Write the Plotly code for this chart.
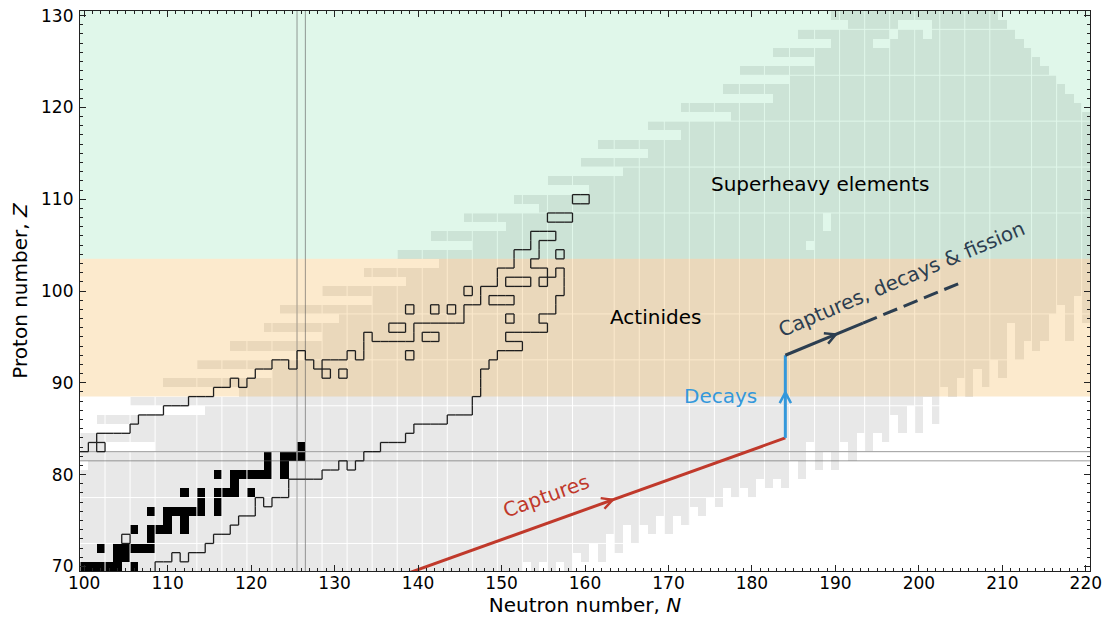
import math
import plotly.graph_objects as go

W, H = 1108, 621
ML, MR, MT, MB = 80, 18, 11, 50
X_RANGE = [99.5, 220.5]
Y_RANGE = [69.5, 130.5]

GREY = "#e8e8e8"
RED = "#c0392b"
BLUE = "#3498db"
NAVY = "#2c3e50"
GREEN_BAND = "rgba(46, 204, 113, 0.15)"
ORANGE_BAND = "rgba(243, 156, 18, 0.21)"

# ---- calculated nuclei (grey cells) ----------------------------------------
Z_ROWS = list(range(70, 131))
GREY_LO = [99] * 15 + [
    106, 102, 115, 106, 119, 110, 123, 114, 127, 118,  # Z 85-94
    129, 122, 131, 124, 135, 129, 139, 134, 143, 138,  # Z 95-104
    147, 142, 151, 146, 155, 152, 161, 156, 165, 160,  # Z 105-114
    168, 162, 172, 168, 178, 172, 183, 177, 185, 179,  # Z 115-124
    188, 183, 190, 186, 192, 190,                      # Z 125-130
]
GREY_HI = [221] * 49 + [220, 219, 218, 217, 216, 215, 214, 213, 212, 211, 210, 209]

# lowest calculated Z for each neutron number (neutron-rich edge)
ZMIN_N = list(range(140, 222))
ZMIN = [60] * 10 + [
    69, 69, 69, 71, 69, 71, 70, 71, 70, 72,   # N 150-159
    71, 73, 71, 74, 72, 75, 73, 75, 74, 76,   # N 160-169
    74, 76, 75, 77, 76, 78, 77, 79, 78, 79,   # N 170-179
    78, 80, 79, 80, 79, 82, 80, 84, 81, 83,   # N 180-189
    81, 84, 82, 85, 83, 85, 84, 87, 85, 88,   # N 190-199
    85, 89, 86, 90, 89, 91, 89, 92, 90, 93,   # N 200-209
    91, 97, 93, 95, 94, 95, 98, 99, 95, 100,  # N 210-219
    97, 100,                                  # N 220-221
]

GREY_HOLES_N = [100, 103, 104, 105, 106, 107, 108, 187, 189, 189, 195, 196, 197, 198, 199, 200, 201, 201]
GREY_HOLES_Z = [81, 83, 83, 83, 83, 83, 83, 105, 107, 108, 127, 127, 128, 129, 129, 129, 129, 128]

# ---- stable nuclei (black cells) -------------------------------------------
STABLE_Z = [70] * 6 + [71] * 2 + [72] * 6 + [73] + [74] * 5 + [75] * 2 + [76] * 7 + [77] * 2 \
    + [78] * 6 + [79] + [80] * 7 + [81] * 2 + [82] * 4 + [83]
STABLE_N = [100, 101, 102, 103, 104, 106,
            104, 105,
            102, 104, 105, 106, 107, 108,
            108,
            106, 108, 109, 110, 112,
            110, 112,
            108, 110, 111, 112, 113, 114, 116,
            114, 116,
            112, 114, 116, 117, 118, 120,
            118,
            116, 118, 119, 120, 121, 122, 124,
            122, 124,
            122, 124, 125, 126,
            126]

# ---- experimentally known nuclei (outlined), as row segments ---------------
KNOWN_Z = [70, 71, 71, 72, 73, 73, 74, 75, 76, 77, 77, 78, 79, 80, 81, 81, 82,
           83, 83, 84, 85, 86, 87, 88, 89, 90, 90, 91, 91, 91, 92, 92, 92,
           93, 93, 93, 93, 94, 95, 95, 95, 96, 96, 97, 97,
           98, 98, 98, 98, 99, 99, 100, 100, 101, 101, 101, 102, 102,
           103, 104, 104, 105, 106, 108, 110]
KNOWN_FROM = [90, 90, 112, 90, 90, 106, 90, 90, 90, 90, 122, 90, 90, 90, 90, 132, 90,
              101, 103, 102, 106, 107, 110, 113, 116, 118, 120, 121, 130, 132, 123, 126, 129,
              126, 132, 134, 140, 134, 134, 140, 143, 137, 140, 146, 152,
              139, 142, 144, 146, 148, 152, 146, 148, 150, 154, 156, 150, 157,
              152, 152, 157, 154, 154, 156, 159]
KNOWN_TO = [108, 110, 112, 114, 104, 115, 117, 118, 120, 120, 122, 124, 124, 128, 130, 132, 133,
            101, 135, 138, 139, 143, 146, 146, 147, 118, 147, 128, 130, 147, 124, 127, 148,
            126, 132, 138, 149, 152, 134, 140, 150, 138, 155, 150, 154,
            139, 142, 144, 156, 148, 156, 146, 157, 150, 154, 157, 155, 157,
            153, 154, 157, 154, 156, 158, 160]

MAGIC_N = [126]
MAGIC_Z = [82]

# region bands (Z limits)
ACTINIDE_BAND = [88.5, 103.5]
SHE_BAND = [103.5, 131.0]

# reaction path
CAPTURE_N = [138, 184]
CAPTURE_Z = [69, 84]
DECAY_N = [184, 184]
DECAY_Z = [84, 93]
FISSION_N = [184, 193.3, 205]
FISSION_Z = [93, 96.5, 100.9]

# separator lines visible in the rendered cell grid
SEP_N = [113.5 + 50 * j + 3 * k for j in (-1, 0, 1, 2) for k in range(16)]
SEP_Z = [72.5, 77.5, 82.5, 87.5, 92.5, 97.5, 108.5, 113.5, 118.5, 123.5, 128.5]

# ----------------------------------------------------------------------------
N_COLS = list(range(99, 222))
zmin_of = dict(zip(ZMIN_N, ZMIN))
holes = set(zip(GREY_HOLES_N, GREY_HOLES_Z))

grey_z = []
for zi, z in enumerate(Z_ROWS):
    row = []
    for n in N_COLS:
        ok = GREY_LO[zi] <= n <= GREY_HI[zi] and z >= zmin_of.get(n, 0) and (n, z) not in holes
        row.append(1 if ok else None)
    grey_z.append(row)

stable = set(zip(STABLE_N, STABLE_Z))
black_z = [[1 if (n, z) in stable else None for n in N_COLS] for z in Z_ROWS]

known = set()
for z, a, b in zip(KNOWN_Z, KNOWN_FROM, KNOWN_TO):
    for n in range(a, b + 1):
        known.add((n, z))

ox, oy = [], []
for (n, z) in sorted(known):
    for dn, dz in ((1, 0), (-1, 0), (0, 1), (0, -1)):
        nb = (n + dn, z + dz)
        if nb in known or nb[1] < 70:
            continue
        if dn:
            x = n + 0.5 * dn
            ox += [x, x, None]
            oy += [z - 0.5, z + 0.5, None]
        else:
            y = z + 0.5 * dz
            ox += [n - 0.5, n + 0.5, None]
            oy += [y, y, None]

sx = (W - ML - MR) / (X_RANGE[1] - X_RANGE[0])
sy = (H - MT - MB) / (Y_RANGE[1] - Y_RANGE[0])


def chevron(n0, z0, n1, z1, frac, size=12, half=28):
    tn = n0 + (n1 - n0) * frac
    tz = z0 + (z1 - z0) * frac
    dx, dy = (n1 - n0) * sx, (z1 - z0) * sy
    L = math.hypot(dx, dy)
    ux, uy = dx / L, dy / L
    xs, ys = [], []
    for s in (1, -1):
        a = math.radians(half) * s
        bx = -(ux * math.cos(a) - uy * math.sin(a))
        by = -(ux * math.sin(a) + uy * math.cos(a))
        xs.append(tn + bx * size / sx)
        ys.append(tz + by * size / sy)
    return [xs[0], tn, xs[1]], [ys[0], tz, ys[1]]


fig = go.Figure()

fig.add_trace(go.Heatmap(x=N_COLS, y=Z_ROWS, z=grey_z, colorscale=[[0, GREY], [1, GREY]],
                         showscale=False, hoverinfo="skip"))

sx_l, sy_l = [], []
for v in SEP_N:
    sx_l += [v, v, None]
    sy_l += [Y_RANGE[0], Y_RANGE[1], None]
for v in SEP_Z:
    sx_l += [X_RANGE[0], X_RANGE[1], None]
    sy_l += [v, v, None]
fig.add_trace(go.Scatter(x=sx_l, y=sy_l, mode="lines", line=dict(color="white", width=1),
                         hoverinfo="skip"))

fig.add_trace(go.Heatmap(x=N_COLS, y=Z_ROWS, z=black_z, colorscale=[[0, "black"], [1, "black"]],
                         showscale=False, hoverinfo="skip"))

for (z0, z1), col in ((ACTINIDE_BAND, ORANGE_BAND), (SHE_BAND, GREEN_BAND)):
    fig.add_trace(go.Scatter(x=[90, 230, 230, 90, 90], y=[z0, z0, z1, z1, z0], mode="lines",
                             fill="toself", fillcolor=col, line=dict(width=0), hoverinfo="skip"))

mx, my = [], []
for n in MAGIC_N:
    for d in (-0.5, 0.5):
        mx += [n + d, n + d, None]
        my += [Y_RANGE[0], Y_RANGE[1], None]
for z in MAGIC_Z:
    for d in (-0.5, 0.5):
        mx += [X_RANGE[0], X_RANGE[1], None]
        my += [z + d, z + d, None]
fig.add_trace(go.Scatter(x=mx, y=my, mode="lines", line=dict(color="rgba(90,90,90,0.6)", width=1),
                         hoverinfo="skip"))

fig.add_trace(go.Scatter(x=ox, y=oy, mode="lines", line=dict(color="#1e1e1e", width=1.3),
                         hoverinfo="skip"))

# reaction path
fig.add_trace(go.Scatter(x=CAPTURE_N, y=CAPTURE_Z, mode="lines", line=dict(color=RED, width=3)))
cx, cy = chevron(CAPTURE_N[0], CAPTURE_Z[0], CAPTURE_N[1], CAPTURE_Z[1], 0.55)
fig.add_trace(go.Scatter(x=cx, y=cy, mode="lines", line=dict(color=RED, width=2.5)))

fig.add_trace(go.Scatter(x=DECAY_N, y=DECAY_Z, mode="lines", line=dict(color=BLUE, width=3)))
cx, cy = chevron(DECAY_N[0], DECAY_Z[0], DECAY_N[1], DECAY_Z[1], 0.55)
fig.add_trace(go.Scatter(x=cx, y=cy, mode="lines", line=dict(color=BLUE, width=2.5)))

fig.add_trace(go.Scatter(x=FISSION_N[:2], y=FISSION_Z[:2], mode="lines", line=dict(color=NAVY, width=3)))
fig.add_trace(go.Scatter(x=FISSION_N[1:], y=FISSION_Z[1:], mode="lines",
                         line=dict(color=NAVY, width=3, dash="15px,7px")))
cx, cy = chevron(FISSION_N[0], FISSION_Z[0], FISSION_N[1], FISSION_Z[1], 0.65)
fig.add_trace(go.Scatter(x=cx, y=cy, mode="lines", line=dict(color=NAVY, width=2.5)))

FONT = "DejaVu Sans"
labels = [
    ("Superheavy elements", 188.1, 111.7, 0, "black"),
    ("Actinides", 168.4, 97.2, 0, "black"),
    ("Decays", 176.2, 88.6, 0, BLUE),
    ("Captures", 155.3, 77.7, -20, RED),
    ("Captures, decays & fission", 197.9, 101.3, -23, NAVY),
]
for txt, x, y, ang, col in labels:
    fig.add_annotation(x=x, y=y, text=txt, showarrow=False, textangle=ang,
                       font=dict(family=FONT, size=20, color=col))

axis_common = dict(
    ticks="inside", ticklen=6, tickwidth=1, tickcolor="#222", showline=True, linecolor="#222",
    linewidth=1.2, mirror="allticks", showgrid=False, zeroline=False, automargin=False,
    ticklabeloverflow="allow",
    tickfont=dict(family=FONT, size=17, color="black"),
    minor=dict(ticks="inside", ticklen=3, tickwidth=1, tickcolor="#222", dtick=1, showgrid=False),
)
fig.update_xaxes(range=X_RANGE, dtick=10, tick0=100, ticklabelstandoff=-4,
                 title=dict(text="Neutron number, <i>N</i>",
                            font=dict(family=FONT, size=20, color="black"), standoff=1),
                 **axis_common)
fig.update_yaxes(range=Y_RANGE, dtick=10, tick0=70, ticklabelstandoff=2,
                 title=dict(text="Proton number, <i>Z</i>",
                            font=dict(family=FONT, size=20, color="black"), standoff=8),
                 **axis_common)

fig.update_layout(
    template="none",
    width=W, height=H, margin=dict(l=ML, r=MR, t=MT, b=MB),
    plot_bgcolor="white", paper_bgcolor="white", showlegend=False,
    font=dict(family=FONT, color="black"),
)

# drop the page's default body margin so the figure fills the window exactly
fig.write_html("out.html", config={"displayModeBar": False},
               post_script="document.body.style.margin = '0';")
